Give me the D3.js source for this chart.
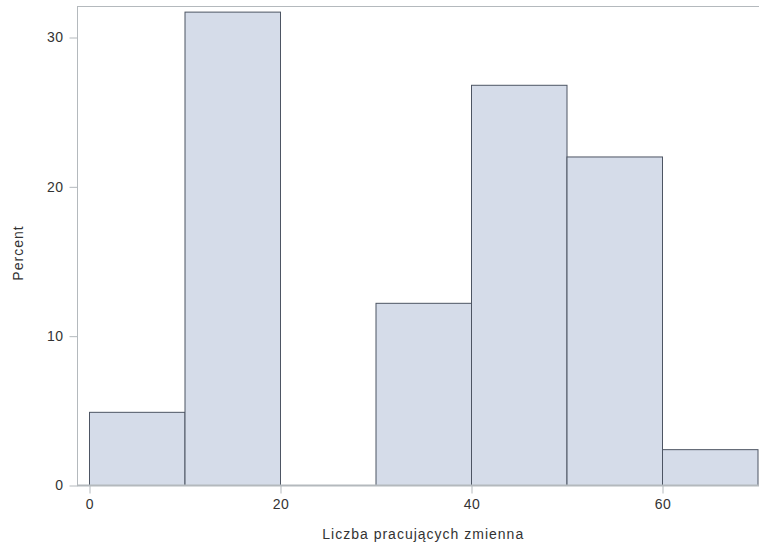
<!DOCTYPE html>
<html>
<head>
<meta charset="utf-8">
<script src="https://cdn.jsdelivr.net/npm/d3@7"></script>
<style>
  html, body { margin: 0; padding: 0; background: #fff; }
  svg { display: block; }
  text { font-family: "Liberation Sans", Arial, sans-serif; fill: #333; }
</style>
</head>
<body>
<svg id="chart" width="759" height="547"></svg>
<script>
// Histogram bins (lower edge, upper edge) and percentages
const binStarts = [0, 10, 30, 40, 50, 60];
const binEnds   = [10, 20, 40, 50, 60, 70];
const percents  = [4.9, 31.7, 12.2, 26.8, 22.0, 2.4];
const xTicks = [0, 20, 40, 60];
const yTicks = [0, 10, 20, 30];
const xLabel = "Liczba pracujących zmienna";
const yLabel = "Percent";

const svg = d3.select("#chart");
const frame = { left: 77, top: 6, right: 762, bottom: 485 };

const x = d3.scaleLinear().domain([0, 70]).range([89, 757.5]);
const y = d3.scaleLinear().domain([0, 30]).range([485, 37]);

// frame
svg.append("rect")
  .attr("x", frame.left + 0.5).attr("y", frame.top + 0.5)
  .attr("width", frame.right - frame.left).attr("height", frame.bottom - frame.top)
  .attr("fill", "#fff").attr("stroke", "#b4b9bd").attr("stroke-width", 1);

// bars
const bins = binStarts.map((s, i) => ({ x0: s, x1: binEnds[i], v: percents[i] }));
svg.append("g").selectAll("rect").data(bins).join("rect")
  .attr("x", d => x(d.x0) + 0.5)
  .attr("y", d => y(d.v) + 0.5)
  .attr("width", d => x(d.x1) - x(d.x0))
  .attr("height", d => y(0) - y(d.v))
  .attr("fill", "#d5dce9")
  .attr("stroke", "#4d5563")
  .attr("stroke-width", 1);

const fontStyle = sel => sel.attr("font-size", 14).attr("fill", "#333")
  .style("font-family", "Liberation Sans, Arial, sans-serif").style("letter-spacing", "0.5px");

// x axis
const xAxis = d3.axisBottom(x).tickValues(xTicks).tickSize(8).tickPadding(6).tickSizeOuter(0);
const gx = svg.append("g").attr("transform", `translate(0.5,${frame.bottom + 0.5})`).call(xAxis);
gx.select(".domain").remove();
gx.selectAll("line").attr("stroke", "#b4b9bd");
gx.selectAll("text").call(fontStyle);

// y axis
const yAxis = d3.axisLeft(y).tickValues(yTicks).tickSize(8).tickPadding(6).tickSizeOuter(0);
const gy = svg.append("g").attr("transform", `translate(${frame.left + 0.5},0.5)`).call(yAxis);
gy.select(".domain").remove();
gy.selectAll("line").attr("stroke", "#b4b9bd");
gy.selectAll("text").call(fontStyle);

// redraw bottom axis line over bars
svg.append("line")
  .attr("x1", frame.left).attr("x2", frame.right)
  .attr("y1", frame.bottom + 0.5).attr("y2", frame.bottom + 0.5)
  .attr("stroke", "#b4b9bd").attr("stroke-width", 2);

// axis labels
svg.append("text")
  .attr("x", (x(0) + x(70)) / 2).attr("y", 539)
  .attr("text-anchor", "middle").attr("font-size", 14)
  .style("letter-spacing", "1px")
  .text(xLabel);

svg.append("text")
  .attr("transform", `translate(23,253) rotate(-90)`)
  .attr("text-anchor", "middle").attr("font-size", 14)
  .style("letter-spacing", "1px")
  .text(yLabel);
</script>
</body>
</html>
